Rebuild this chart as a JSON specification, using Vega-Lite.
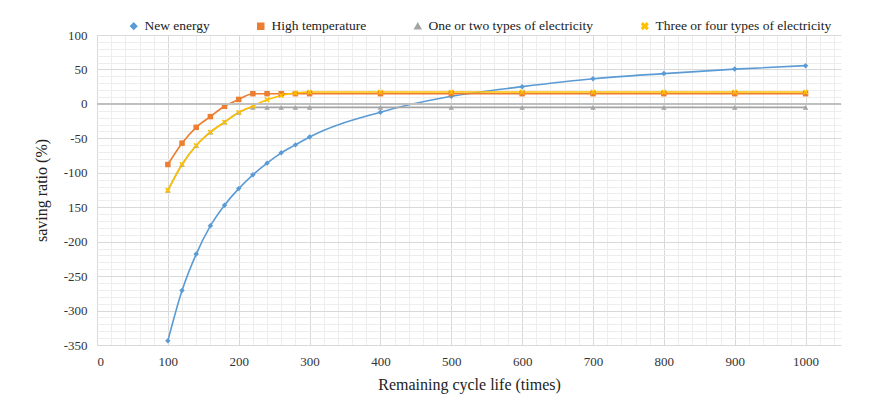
{
  "$schema": "https://vega.github.io/schema/vega-lite/v6.json",
  "width": 744,
  "height": 310,
  "autosize": "none",
  "padding": {"left": 97, "top": 35, "right": 29, "bottom": 63},
  "background": "white",
  "config": {
    "view": {"stroke": null},
    "font": "Liberation Serif",
    "axis": {"labelFont": "Liberation Serif", "titleFont": "Liberation Serif"},
    "legend": {"labelFont": "Liberation Serif", "titleFont": "Liberation Serif"}
  },
  "data": {"values": [
    {"series": "New energy", "life": 100, "ratio": -344},
    {"series": "New energy", "life": 120, "ratio": -271},
    {"series": "New energy", "life": 140, "ratio": -218},
    {"series": "New energy", "life": 160, "ratio": -177},
    {"series": "New energy", "life": 180, "ratio": -147},
    {"series": "New energy", "life": 200, "ratio": -123},
    {"series": "New energy", "life": 220, "ratio": -103},
    {"series": "New energy", "life": 240, "ratio": -86},
    {"series": "New energy", "life": 260, "ratio": -71},
    {"series": "New energy", "life": 280, "ratio": -59.5},
    {"series": "New energy", "life": 300, "ratio": -48},
    {"series": "New energy", "life": 400, "ratio": -12},
    {"series": "New energy", "life": 500, "ratio": 11},
    {"series": "New energy", "life": 600, "ratio": 25},
    {"series": "New energy", "life": 700, "ratio": 36.5},
    {"series": "New energy", "life": 800, "ratio": 44},
    {"series": "New energy", "life": 900, "ratio": 50.5},
    {"series": "New energy", "life": 1000, "ratio": 55.5},
    {"series": "High temperature", "life": 100, "ratio": -88},
    {"series": "High temperature", "life": 120, "ratio": -57},
    {"series": "High temperature", "life": 140, "ratio": -34},
    {"series": "High temperature", "life": 160, "ratio": -18.5},
    {"series": "High temperature", "life": 180, "ratio": -3.5},
    {"series": "High temperature", "life": 200, "ratio": 6.5},
    {"series": "High temperature", "life": 220, "ratio": 14.8},
    {"series": "High temperature", "life": 240, "ratio": 14.8},
    {"series": "High temperature", "life": 260, "ratio": 14.8},
    {"series": "High temperature", "life": 280, "ratio": 14.8},
    {"series": "High temperature", "life": 300, "ratio": 14.8},
    {"series": "High temperature", "life": 400, "ratio": 14.8},
    {"series": "High temperature", "life": 500, "ratio": 14.8},
    {"series": "High temperature", "life": 600, "ratio": 14.8},
    {"series": "High temperature", "life": 700, "ratio": 14.8},
    {"series": "High temperature", "life": 800, "ratio": 14.8},
    {"series": "High temperature", "life": 900, "ratio": 14.8},
    {"series": "High temperature", "life": 1000, "ratio": 14.8},
    {"series": "One or two types of electricity", "life": 100, "ratio": -125.5},
    {"series": "One or two types of electricity", "life": 120, "ratio": -88},
    {"series": "One or two types of electricity", "life": 140, "ratio": -60.5},
    {"series": "One or two types of electricity", "life": 160, "ratio": -41},
    {"series": "One or two types of electricity", "life": 180, "ratio": -26.5},
    {"series": "One or two types of electricity", "life": 200, "ratio": -12.5},
    {"series": "One or two types of electricity", "life": 220, "ratio": -5},
    {"series": "One or two types of electricity", "life": 240, "ratio": -5},
    {"series": "One or two types of electricity", "life": 260, "ratio": -5},
    {"series": "One or two types of electricity", "life": 280, "ratio": -5},
    {"series": "One or two types of electricity", "life": 300, "ratio": -5},
    {"series": "One or two types of electricity", "life": 400, "ratio": -5},
    {"series": "One or two types of electricity", "life": 500, "ratio": -5},
    {"series": "One or two types of electricity", "life": 600, "ratio": -5},
    {"series": "One or two types of electricity", "life": 700, "ratio": -5},
    {"series": "One or two types of electricity", "life": 800, "ratio": -5},
    {"series": "One or two types of electricity", "life": 900, "ratio": -5},
    {"series": "One or two types of electricity", "life": 1000, "ratio": -5},
    {"series": "Three or four types of electricity", "life": 100, "ratio": -125.5},
    {"series": "Three or four types of electricity", "life": 120, "ratio": -88},
    {"series": "Three or four types of electricity", "life": 140, "ratio": -60.5},
    {"series": "Three or four types of electricity", "life": 160, "ratio": -41},
    {"series": "Three or four types of electricity", "life": 180, "ratio": -26.5},
    {"series": "Three or four types of electricity", "life": 200, "ratio": -12.5},
    {"series": "Three or four types of electricity", "life": 220, "ratio": -3},
    {"series": "Three or four types of electricity", "life": 240, "ratio": 6},
    {"series": "Three or four types of electricity", "life": 260, "ratio": 12.3},
    {"series": "Three or four types of electricity", "life": 280, "ratio": 15.7},
    {"series": "Three or four types of electricity", "life": 300, "ratio": 17.2},
    {"series": "Three or four types of electricity", "life": 400, "ratio": 17.2},
    {"series": "Three or four types of electricity", "life": 500, "ratio": 17.2},
    {"series": "Three or four types of electricity", "life": 600, "ratio": 17.2},
    {"series": "Three or four types of electricity", "life": 700, "ratio": 17.2},
    {"series": "Three or four types of electricity", "life": 800, "ratio": 17.2},
    {"series": "Three or four types of electricity", "life": 900, "ratio": 17.2},
    {"series": "Three or four types of electricity", "life": 1000, "ratio": 17.2}
  ]},
  "resolve": {"axis": {"x": "independent", "y": "independent"}},
  "layer": [
    {
      "mark": {"type": "line", "interpolate": "monotone", "strokeWidth": 1.6},
      "encoding": {
        "x": {"field": "life", "type": "quantitative",
              "scale": {"domain": [0, 1050], "nice": false, "zero": false},
              "axis": {"orient": "bottom", "values": [20,40,60,80,120,140,160,180,220,240,260,280,320,340,360,380,420,440,460,480,520,540,560,580,620,640,660,680,720,740,760,780,820,840,860,880,920,940,960,980,1020,1040],
                       "labels": false, "ticks": false, "domain": false, "title": null,
                       "grid": true, "gridColor": "#EDEDED", "gridWidth": 1}},
        "y": {"field": "ratio", "type": "quantitative",
              "scale": {"domain": [-350, 100], "nice": false, "zero": false},
              "axis": {"orient": "left", "values": [-340,-330,-320,-310,-290,-280,-270,-260,-240,-230,-220,-210,-190,-180,-170,-160,-140,-130,-120,-110,-90,-80,-70,-60,-40,-30,-20,-10,10,20,30,40,60,70,80,90],
                       "labels": false, "ticks": false, "domain": false, "title": null,
                       "grid": true, "gridColor": "#EDEDED", "gridWidth": 1}},
        "color": {"field": "series", "type": "nominal",
                  "scale": {"domain": ["New energy", "High temperature", "One or two types of electricity", "Three or four types of electricity"],
                            "range": ["#5B9BD5", "#ED7D31", "#A5A5A5", "#FFC000"]}}
      }
    },
    {
      "mark": {"type": "point", "filled": true, "opacity": 1, "size": 30},
      "encoding": {
        "x": {"field": "life", "type": "quantitative",
              "axis": {"orient": "bottom", "values": [0,100,200,300,400,500,600,700,800,900,1000],
                       "labelExpr": "'' + datum.value",
                       "grid": true, "gridColor": "#D9D9D9", "ticks": false, "domain": false,
                       "labelFont": "Liberation Serif", "labelFontSize": 13, "labelColor": "#333333", "labelPadding": 10,
                       "title": "Remaining cycle life (times)", "titleFont": "Liberation Serif", "titleFontSize": 16,
                       "titleFontWeight": "normal", "titleColor": "#222222", "titlePadding": 8}},
        "y": {"field": "ratio", "type": "quantitative",
              "axis": {"orient": "left", "values": [-350,-300,-250,-200,-150,-100,-50,0,50,100],
                       "labelExpr": "datum.value == -150 ? '150' : '' + datum.value",
                       "grid": true, "gridColor": "#D9D9D9", "ticks": false, "domain": false,
                       "labelFont": "Liberation Serif", "labelFontSize": 13, "labelColor": "#333333", "labelPadding": 10,
                       "title": "saving ratio (%)", "titleFont": "Liberation Serif", "titleFontSize": 16,
                       "titleFontWeight": "normal", "titleColor": "#222222", "titlePadding": 14}},
        "color": {"field": "series", "type": "nominal",
                  "legend": {"orient": "none", "legendX": 30, "legendY": -16, "direction": "horizontal",
                             "title": null, "labelFont": "Liberation Serif", "labelFontSize": 13.5, "labelColor": "#222222",
                             "labelLimit": 400, "symbolSize": 36, "labelOffset": 4, "columnPadding": 44}},
        "shape": {"field": "series", "type": "nominal",
                  "scale": {"domain": ["New energy", "High temperature", "One or two types of electricity", "Three or four types of electricity"],
                            "range": ["diamond", "square", "triangle-up", "M-1,-0.6L-0.6,-1L0,-0.4L0.6,-1L1,-0.6L0.4,0L1,0.6L0.6,1L0,0.4L-0.6,1L-1,0.6L-0.4,0Z"]},
                  "legend": {"orient": "none", "legendX": 30, "legendY": -16, "direction": "horizontal",
                             "title": null, "labelFont": "Liberation Serif", "labelFontSize": 13.5, "labelColor": "#222222",
                             "labelLimit": 400, "symbolSize": 36, "labelOffset": 4, "columnPadding": 44}}
      }
    },
    {
      "mark": {"type": "rule", "color": "#BFBFBF", "strokeWidth": 1.2},
      "encoding": {"y": {"datum": 0, "axis": null}}
    }
  ]
}
